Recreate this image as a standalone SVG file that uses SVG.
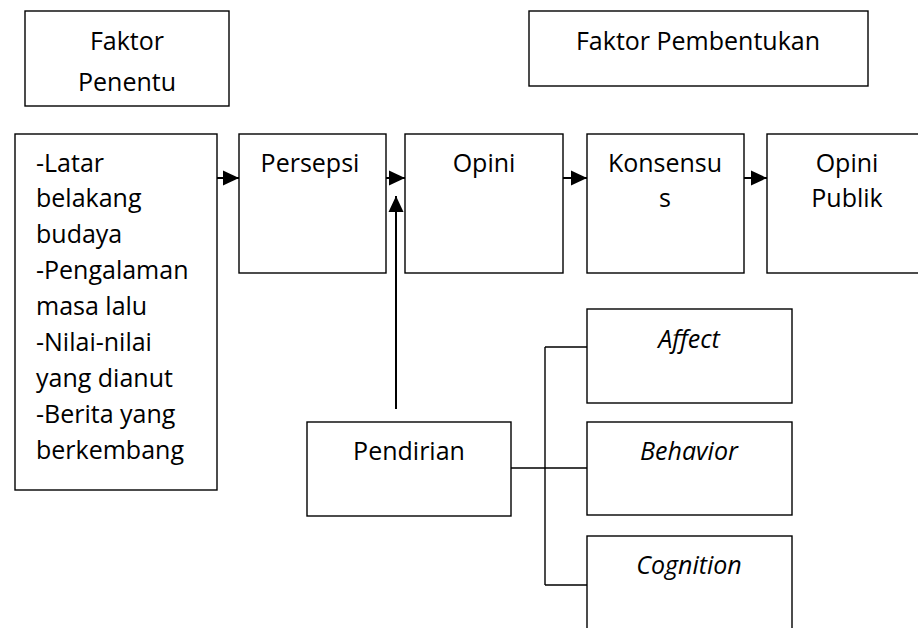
<svg xmlns="http://www.w3.org/2000/svg" width="918" height="628" viewBox="0 0 918 628">
<defs>
<style>
.box{fill:#fff;stroke:#000;stroke-width:1.4}
.t{font-family:"Open Sans","Liberation Sans",sans-serif;font-size:25px;fill:#000}
.c{text-anchor:middle}
.i{font-style:italic}
.ln{fill:none;stroke:#000;stroke-width:2}
.br{fill:none;stroke:#000;stroke-width:1.4}
</style>
<marker id="ah" viewBox="0 0 16 16" markerWidth="16" markerHeight="16" refX="16" refY="8" orient="auto" markerUnits="userSpaceOnUse">
<path d="M0,0.5 L16,8 L0,15.5 Z" fill="#000"/>
</marker>
</defs>
<rect width="918" height="628" fill="#fff"/>
<g id="faktor-penentu">
<rect class="box" x="25" y="11" width="204" height="95"/>
<text class="t c" x="127" y="50">Faktor</text>
<text class="t c" x="127" y="91">Penentu</text>
</g>
<g id="faktor-pembentukan">
<rect class="box" x="529" y="11" width="339" height="75"/>
<text class="t c" x="698" y="50">Faktor Pembentukan</text>
</g>
<g id="latar">
<rect class="box" x="15" y="134" width="202" height="356"/>
<text class="t" x="36" y="172">-Latar</text>
<text class="t" x="36" y="207">belakang</text>
<text class="t" x="36" y="243">budaya</text>
<text class="t" x="36" y="279">-Pengalaman</text>
<text class="t" x="36" y="315">masa lalu</text>
<text class="t" x="36" y="351">-Nilai-nilai</text>
<text class="t" x="36" y="387">yang dianut</text>
<text class="t" x="36" y="423">-Berita yang</text>
<text class="t" x="36" y="459">berkembang</text>
</g>
<g id="persepsi">
<rect class="box" x="239" y="134" width="147" height="139"/>
<text class="t c" x="310" y="172">Persepsi</text>
</g>
<g id="opini">
<rect class="box" x="405" y="134" width="158" height="139"/>
<text class="t c" x="484" y="172">Opini</text>
</g>
<g id="konsensus">
<rect class="box" x="587" y="134" width="157" height="139"/>
<text class="t c" x="665" y="172">Konsensu</text>
<text class="t c" x="665" y="207">s</text>
</g>
<g id="opini-publik">
<rect class="box" x="767" y="134" width="162" height="139"/>
<text class="t c" x="847" y="172">Opini</text>
<text class="t c" x="847" y="207">Publik</text>
</g>
<g id="pendirian">
<rect class="box" x="307" y="422" width="204" height="94"/>
<text class="t c" x="409" y="460">Pendirian</text>
</g>
<g id="affect">
<rect class="box" x="587" y="309" width="205" height="94"/>
<text class="t c i" x="689" y="348">Affect</text>
</g>
<g id="behavior">
<rect class="box" x="587" y="422" width="205" height="93"/>
<text class="t c i" x="689" y="460">Behavior</text>
</g>
<g id="cognition">
<rect class="box" x="587" y="536" width="205" height="110"/>
<text class="t c i" x="689" y="574">Cognition</text>
</g>
<g id="connectors">
<line class="ln" x1="217" y1="178" x2="239" y2="178" marker-end="url(#ah)"/>
<line class="ln" x1="386" y1="178" x2="405" y2="178" marker-end="url(#ah)"/>
<line class="ln" x1="563" y1="178" x2="587" y2="178" marker-end="url(#ah)"/>
<line class="ln" x1="744" y1="178" x2="767" y2="178" marker-end="url(#ah)"/>
<line class="ln" x1="396" y1="409" x2="396" y2="196" marker-end="url(#ah)"/>
<path class="br" d="M511,468 H587 M545,347 V585 M545,347 H587 M545,585 H587"/>
</g>
</svg>
